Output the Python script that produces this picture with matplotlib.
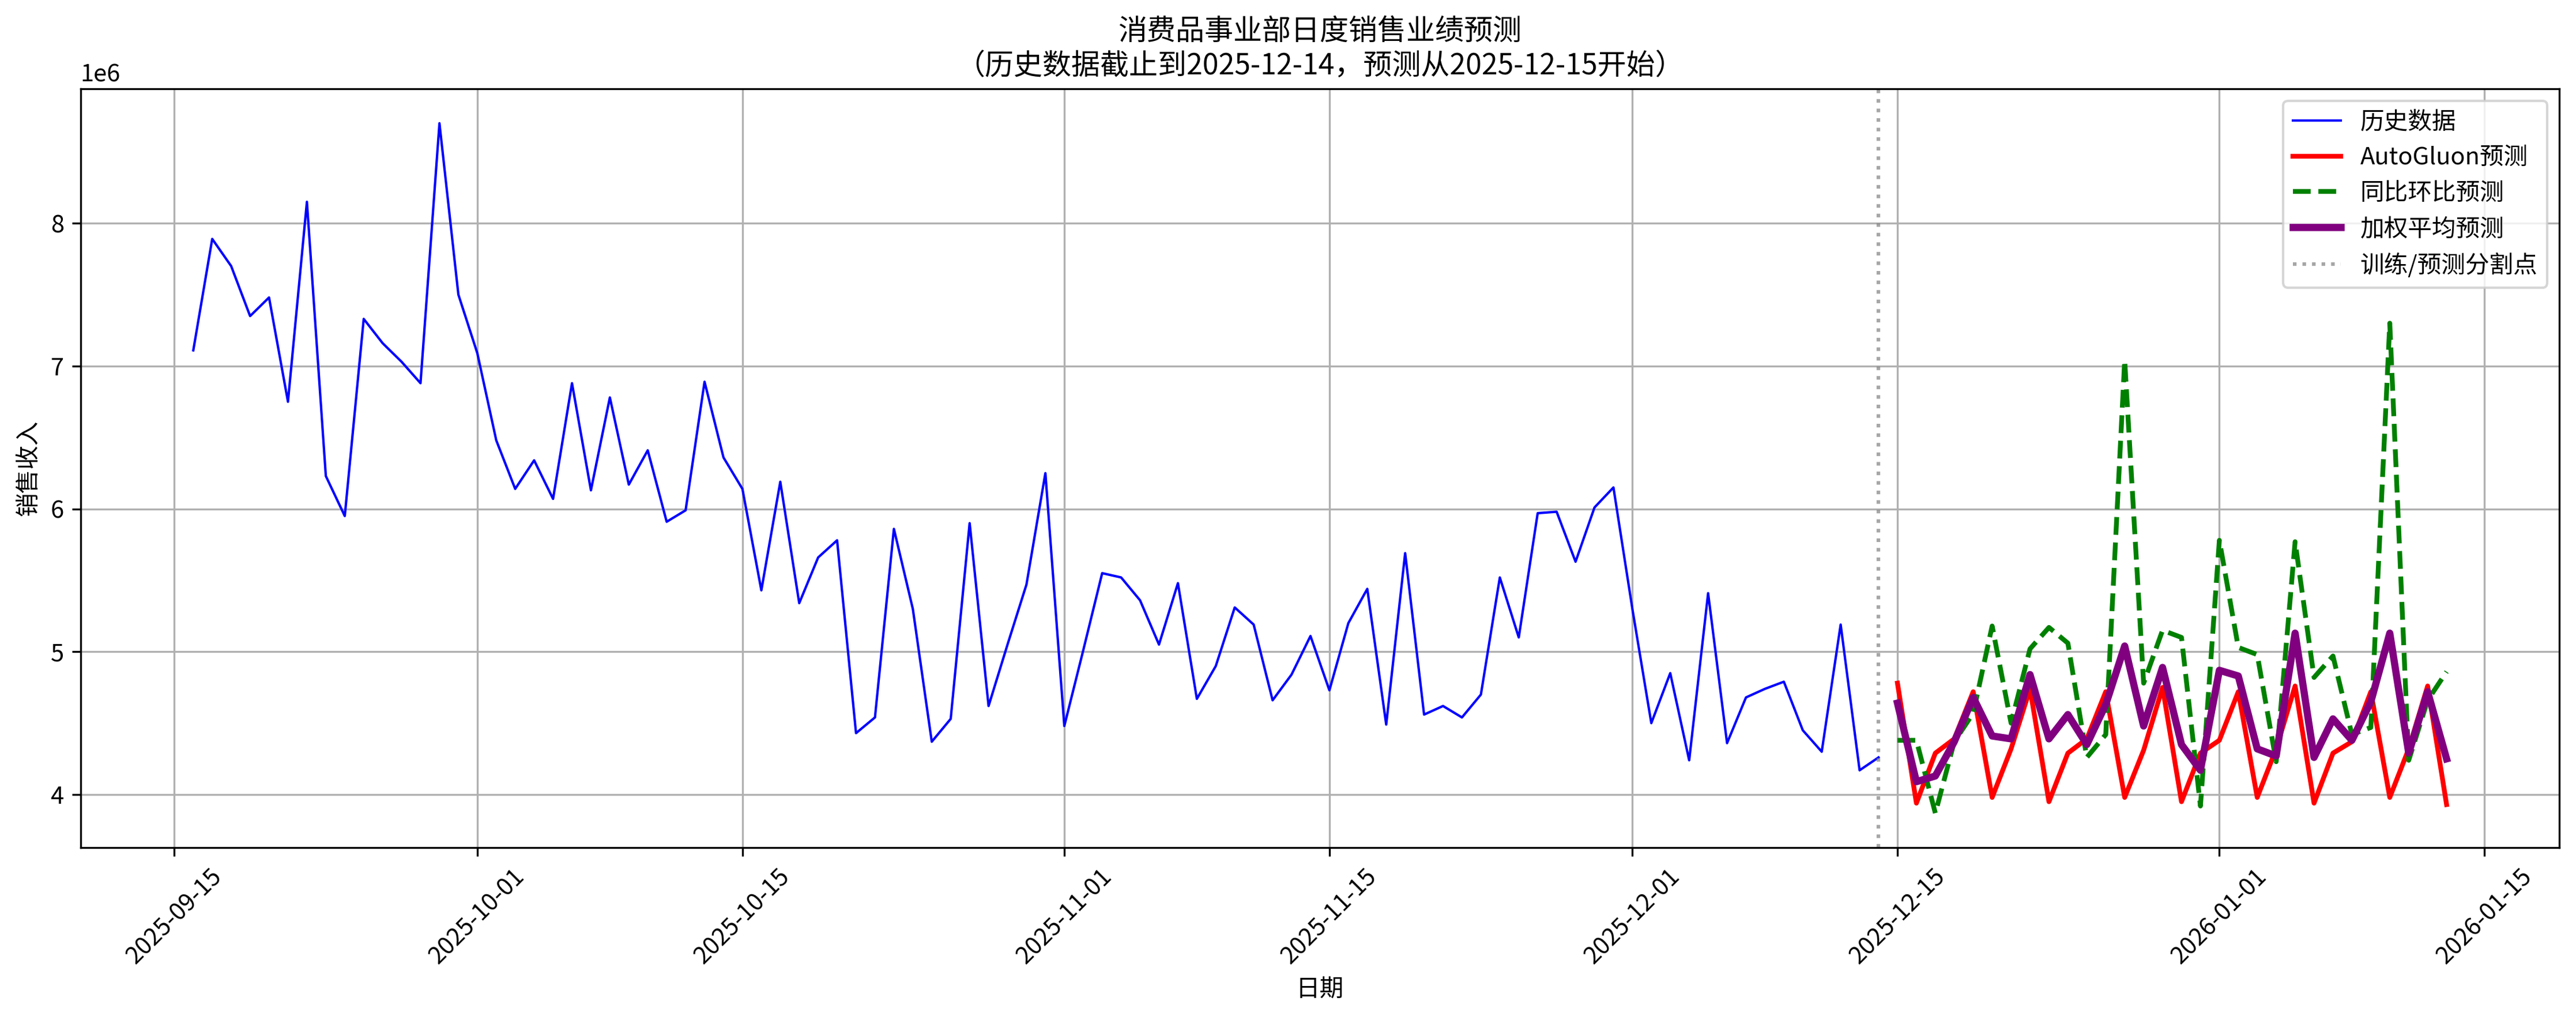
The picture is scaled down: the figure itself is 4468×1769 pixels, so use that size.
import matplotlib
matplotlib.use('Agg')
import matplotlib.pyplot as plt
import pandas as pd

plt.rcParams['font.family'] = ['Noto Sans CJK SC', 'DejaVu Sans']
plt.rcParams['axes.unicode_minus'] = False

# 历史数据 2025-09-16 .. 2025-12-14
hist_dates = pd.date_range('2025-09-16', '2025-12-14', freq='D')
hist_sales = [
    7.11, 7.89, 7.70, 7.35, 7.48, 6.75, 8.15, 6.23, 5.95, 7.33,
    7.16, 7.03, 6.88, 8.70, 7.50, 7.09, 6.48, 6.14, 6.34, 6.07,
    6.88, 6.13, 6.78, 6.17, 6.41, 5.91, 5.99, 6.89, 6.36, 6.14,
    5.43, 6.19, 5.34, 5.66, 5.78, 4.43, 4.54, 5.86, 5.30, 4.37,
    4.53, 5.90, 4.62, 5.05, 5.47, 6.25, 4.48, 5.01, 5.55, 5.52,
    5.36, 5.05, 5.48, 4.67, 4.90, 5.31, 5.19, 4.66, 4.84, 5.11,
    4.73, 5.20, 5.44, 4.49, 5.69, 4.56, 4.62, 4.54, 4.70, 5.52,
    5.10, 5.97, 5.98, 5.63, 6.01, 6.15, 5.30, 4.50, 4.85, 4.24,
    5.41, 4.36, 4.68, 4.74, 4.79, 4.45, 4.30, 5.19, 4.17, 4.26,
]

# 预测 2025-12-15 .. 2026-01-13
fc_dates = pd.date_range('2025-12-15', '2026-01-13', freq='D')
autogluon_fc = [
    4.78, 3.94, 4.29, 4.39, 4.72, 3.98, 4.32, 4.74, 3.95, 4.29,
    4.39, 4.72, 3.98, 4.31, 4.75, 3.95, 4.29, 4.38, 4.72, 3.98,
    4.32, 4.76, 3.94, 4.29, 4.37, 4.72, 3.98, 4.32, 4.76, 3.93,
]
yoy_mom_fc = [
    4.38, 4.38, 3.87, 4.37, 4.57, 5.18, 4.50, 5.02, 5.17, 5.06,
    4.26, 4.42, 7.04, 4.78, 5.15, 5.10, 3.92, 5.78, 5.03, 4.98,
    4.23, 5.77, 4.82, 4.97, 4.42, 4.47, 7.30, 4.24, 4.66, 4.86,
]
weighted_fc = [
    4.64, 4.09, 4.13, 4.37, 4.68, 4.41, 4.39, 4.84, 4.39, 4.56,
    4.35, 4.63, 5.04, 4.48, 4.89, 4.35, 4.17, 4.87, 4.83, 4.32,
    4.27, 5.13, 4.26, 4.53, 4.38, 4.65, 5.13, 4.29, 4.72, 4.25,
]
split_date = pd.Timestamp('2025-12-14')

scale = 1e6
fig, ax = plt.subplots(figsize=(4468 / 300, 1769 / 300), dpi=300)

ax.plot(hist_dates, [v * scale for v in hist_sales], color='blue', linewidth=1, label='历史数据')
ax.plot(fc_dates, [v * scale for v in autogluon_fc], color='red', linewidth=2, label='AutoGluon预测')
ax.plot(fc_dates, [v * scale for v in yoy_mom_fc], color='green', linewidth=2, linestyle='--', label='同比环比预测')
ax.plot(fc_dates, [v * scale for v in weighted_fc], color='purple', linewidth=3, label='加权平均预测')
ax.axvline(split_date, color='gray', linestyle=':', alpha=0.7, label='训练/预测分割点')

ax.set_title('消费品事业部日度销售业绩预测\n（历史数据截止到2025-12-14，预测从2025-12-15开始）')
ax.set_xlabel('日期')
ax.set_ylabel('销售收入')
ax.legend(loc='upper right')
ax.grid(True)
plt.setp(ax.get_xticklabels(), rotation=45)

fig.subplots_adjust(left=0.0313, right=0.9935, top=0.913, bottom=0.169)
plt.savefig('out.png', dpi=300)
